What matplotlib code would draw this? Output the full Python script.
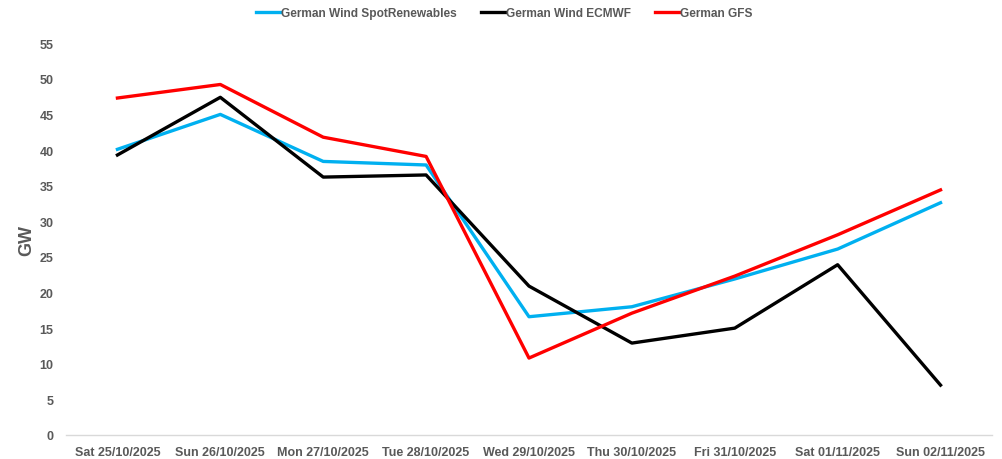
import matplotlib
matplotlib.use("Agg")
import matplotlib.pyplot as plt

dates = ["Sat 25/10/2025", "Sun 26/10/2025", "Mon 27/10/2025", "Tue 28/10/2025",
         "Wed 29/10/2025", "Thu 30/10/2025", "Fri 31/10/2025", "Sat 01/11/2025",
         "Sun 02/11/2025"]
spot_renewables = [40.1, 45.0, 38.4, 37.9, 16.6, 18.0, 21.9, 26.1, 32.6]
ecmwf = [39.3, 47.4, 36.2, 36.5, 20.9, 12.9, 15.0, 23.9, 7.0]
gfs = [47.3, 49.2, 41.8, 39.1, 10.8, 17.1, 22.3, 28.1, 34.4]

plt.rcParams['font.family'] = ['Liberation Sans', 'DejaVu Sans']
text_color = "#595959"

fig = plt.figure(figsize=(10.03, 4.6), dpi=100)
ax = fig.add_axes([0.0658, 0.0522, 0.9232, 0.8518])

x = list(range(len(dates)))
ax.plot(x, spot_renewables, color="#00B0F0", lw=2.4, label="German Wind SpotRenewables")
ax.plot(x, ecmwf, color="#000000", lw=2.4, label="German Wind ECMWF")
ax.plot(x, gfs, color="#FF0000", lw=2.4, label="German GFS")

ax.set_xlim(-0.5, len(dates) - 0.5)
ax.set_ylim(0, 55)
ax.set_yticks(range(0, 56, 5))
ax.set_xticks(x)
ax.set_xticklabels(dates)

for side in ["top", "right", "left"]:
    ax.spines[side].set_visible(False)
ax.spines["bottom"].set_color("#D9D9D9")
ax.spines["bottom"].set_linewidth(1.0)
ax.tick_params(axis="both", length=0, labelcolor=text_color, labelsize=9)
ax.tick_params(axis="y", pad=9)
ax.tick_params(axis="x", pad=8)
for lbl in ax.get_xticklabels() + ax.get_yticklabels():
    lbl.set_fontweight("bold")

ax.set_ylabel("GW", fontsize=13, fontweight="bold", color=text_color, labelpad=3)

leg = fig.legend(loc="upper center", bbox_to_anchor=(0.503, 1.005), ncol=3, frameon=False,
                 fontsize=8.6, handlelength=2.0, handletextpad=0.1, columnspacing=2.0)
for t in leg.get_texts():
    t.set_color(text_color)
    t.set_fontweight("bold")

fig.savefig("out.png", dpi=100)
